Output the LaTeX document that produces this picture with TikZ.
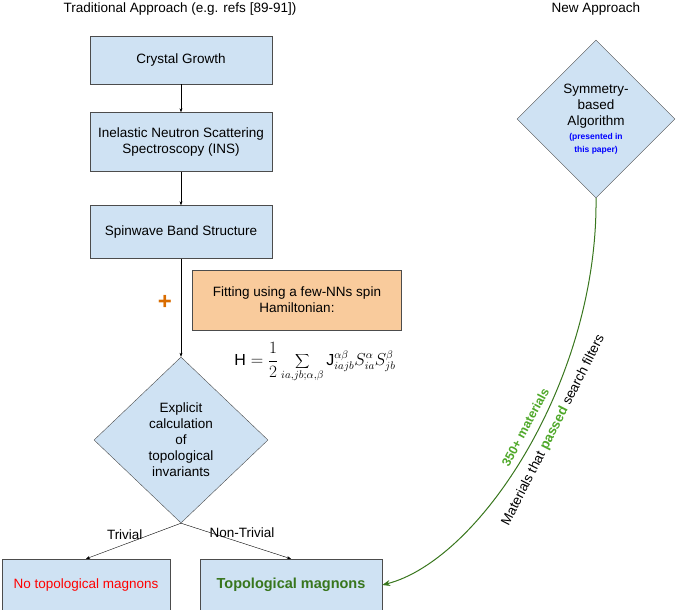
\documentclass[tikz,border=0pt]{standalone}
\usepackage{fontspec}
\setmainfont{Liberation Sans}
\usetikzlibrary{shapes.geometric,arrows.meta}
\definecolor{bfill}{HTML}{CFE2F3}
\definecolor{ofill}{HTML}{F9CB9C}
\definecolor{gr}{HTML}{38761D}
\definecolor{grt}{HTML}{4FA82A}
\begin{document}
\begin{tikzpicture}[x=1pt,y=-1pt,font=\fontsize{13.5}{16}\selectfont,
  box/.style={draw=black!70,fill=bfill,minimum width=182pt,align=center,inner sep=2pt},
  dia/.style={diamond,draw=black!70,fill=bfill,align=center,aspect=1.05,inner sep=0pt},
  arr/.style={-{Stealth[length=4pt,width=3pt]},black}]
\useasboundingbox (0,0) rectangle (685,610);
\node (t1) at (180,9) {Traditional Approach (e.g. refs [89-91])};
\node (t2) at (596,9) {New Approach};
\node[box,minimum height=48pt] (cg) at (181,60) {Crystal Growth};
\node[box,minimum height=59pt] (ins) at (181,142) {Inelastic Neutron Scattering\\Spectroscopy (INS)};
\node[box,minimum height=53pt] (sw) at (181,232) {Spinwave Band Structure};
\node[draw=black!70,fill=ofill,minimum width=209pt,minimum height=60pt,align=center] (fit) at (297,300) {Fitting using a few-NNs spin\\Hamiltonian:};
\node[text=orange!85!black,font=\fontsize{24}{24}\selectfont\bfseries] (plus) at (165,302) {+};
\node[font=\fontsize{16}{18}\selectfont] (ham) at (315,362) {$\displaystyle\mathrm{H}=\frac{1}{2}\sum_{ia,jb;\alpha,\beta}\mathrm{J}^{\alpha\beta}_{iajb}S^{\alpha}_{ia}S^{\beta}_{jb}$};
\node[dia,minimum width=174pt,minimum height=166pt] (d1) at (181,440) {Explicit\\calculation\\of\\topological\\invariants};
\node[dia,minimum width=158pt,minimum height=158pt] (d2) at (596,119) {Symmetry-\\based\\Algorithm\\[-2pt]{\fontsize{8.5}{9}\selectfont\bfseries\color{blue}(presented in}\\[-3pt]{\fontsize{8.5}{9}\selectfont\bfseries\color{blue}this paper)}};
\node[box,minimum width=168pt,minimum height=52pt] (nt) at (86,585) {\color{red}No topological magnons};
\node[box,minimum width=182pt,minimum height=52pt] (tm) at (291,585) {\color{gr}\bfseries\fontsize{14.5}{16}\selectfont Topological magnons};
\draw[arr] (cg) -- (ins);
\draw[arr] (ins) -- (sw);
\draw[arr] (sw) -- (d1);
\draw[arr] (d1.south) -- node[above,pos=0.55,xshift=-4pt] {Trivial} (nt.north);
\draw[arr] (d1.south) -- node[above,pos=0.5,xshift=6pt] {Non-Trivial} (tm.north);
\draw[gr,line width=1pt,-{Stealth[length=8pt,width=6pt]}] (d2.south) .. controls (598,380) and (480,560) .. (tm.east)
  node[pos=0.46,sloped,above=4pt,text=grt,font=\fontsize{12.5}{14}\selectfont\bfseries] {350+ materials}
  node[pos=0.44,sloped,below=4pt,text=black] {Materials that \textcolor{grt}{\bfseries passed} search filters};
\end{tikzpicture}
\end{document}
